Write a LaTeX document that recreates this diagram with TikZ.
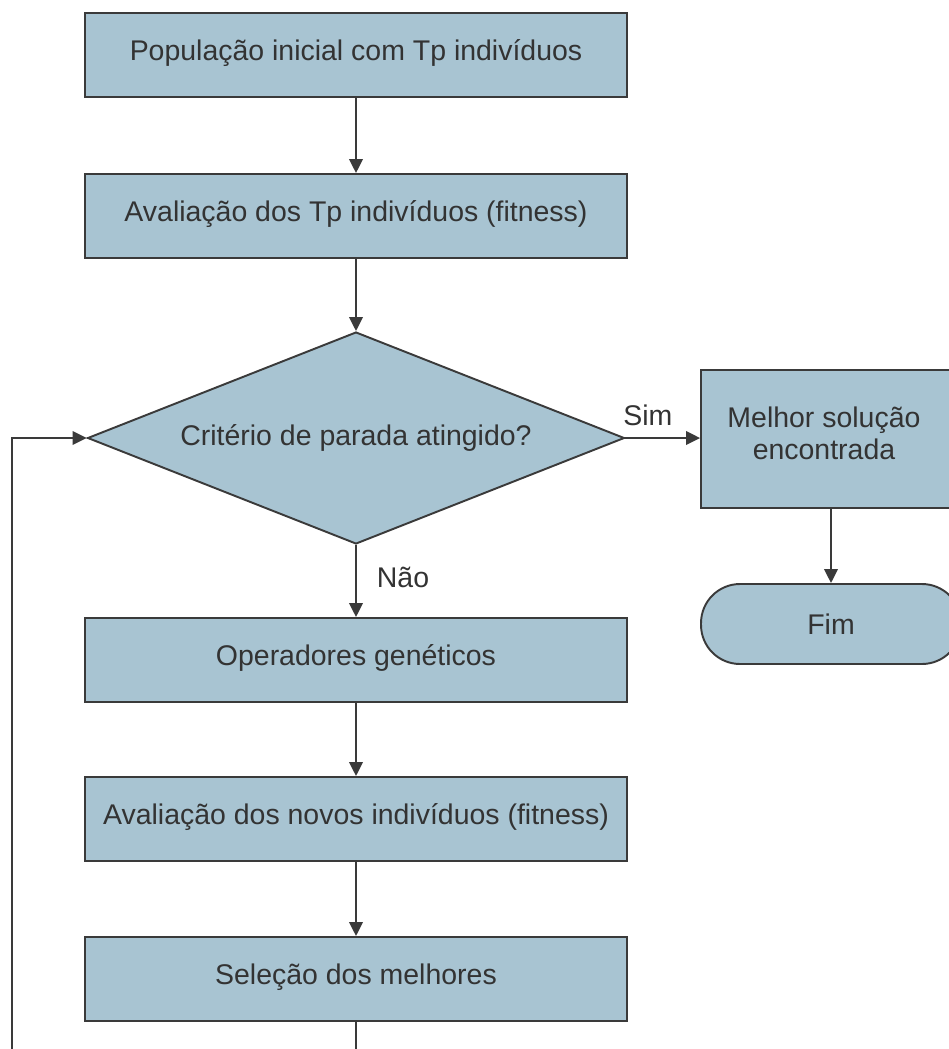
\documentclass[tikz,border=0pt]{standalone}
\usepackage{fontspec}
\setmainfont{Liberation Sans}
\usetikzlibrary{shapes.geometric, arrows.meta}
\definecolor{boxfill}{HTML}{A8C4D2}
\definecolor{boxline}{HTML}{3A3A3A}
\definecolor{txtgray}{HTML}{333333}
\tikzset{
    procbox/.style={draw=boxline, fill=boxfill, line width=1.1pt, text=txtgray,
        minimum width=10.84cm, minimum height=1.68cm, inner sep=2pt,
        font=\fontsize{16.2}{18.2}\selectfont},
    onetext/.style={text height=11.7pt, text depth=6pt},
    decbox/.style={draw=boxline, fill=boxfill, line width=1.1pt, text=txtgray,
        diamond, aspect=2.53, minimum width=10.74cm, minimum height=4.24cm, inner sep=0pt,
        font=\fontsize{16.2}{18.2}\selectfont},
    endbox/.style={draw=boxline, fill=boxfill, line width=1.1pt, text=txtgray,
        rounded corners=0.78cm, minimum width=5.2cm, minimum height=1.6cm,
        font=\fontsize{16.2}{18.2}\selectfont},
    flow/.style={draw=boxline, line width=1.1pt, -{Triangle[length=0.28cm, width=0.27cm]}},
    flowlabel/.style={text=txtgray, font=\fontsize{16.2}{18.2}\selectfont},
}

\begin{document}
\begin{tikzpicture}[x=0.02cm, y=-0.02cm]
    \useasboundingbox (0,0) rectangle (948,1049);
    % main column
    \node[procbox, onetext] (pop) at (356,55) {População inicial com Tp indivíduos};
    \node[procbox, onetext] (aval) at (356,216) {Avaliação dos Tp indivíduos (fitness)};
    \node[decbox] (crit) at (356,438) {Critério de parada atingido?};
    \node[procbox, onetext] (oper) at (356,660) {Operadores genéticos};
    \node[procbox, onetext] (novos) at (356,819) {Avaliação dos novos indivíduos (fitness)};
    \node[procbox, onetext] (sel) at (356,979) {Seleção dos melhores};
    % right column
    \node[procbox, minimum width=5.2cm, minimum height=2.76cm, align=center, text depth=7pt] (melhor) at (831,439)
        {\hspace*{-8pt}Melhor solução\\\hspace*{-8pt}encontrada};
    \node[endbox] (fim) at (831,624) {Fim};

    \coordinate (loopa) at (356,1070);
    \coordinate (loopb) at (12,1070);

    \draw[flow] (pop) -- (aval);
    \draw[flow] (aval) -- (crit);
    \draw[flow] (crit) -- node[flowlabel, right=8pt, pos=0.45] {Não} (oper);
    \draw[flow] (oper) -- (novos);
    \draw[flow] (novos) -- (sel);
    \draw[flow] (crit.east) -- node[flowlabel, above=3pt, pos=0.3] {Sim} (melhor.west |- crit.east);
    \draw[flow] (melhor) -- (fim);
    \draw[flow] (sel.south) -- (loopa) -- (loopb) |- (crit.west);
\end{tikzpicture}
\end{document}
